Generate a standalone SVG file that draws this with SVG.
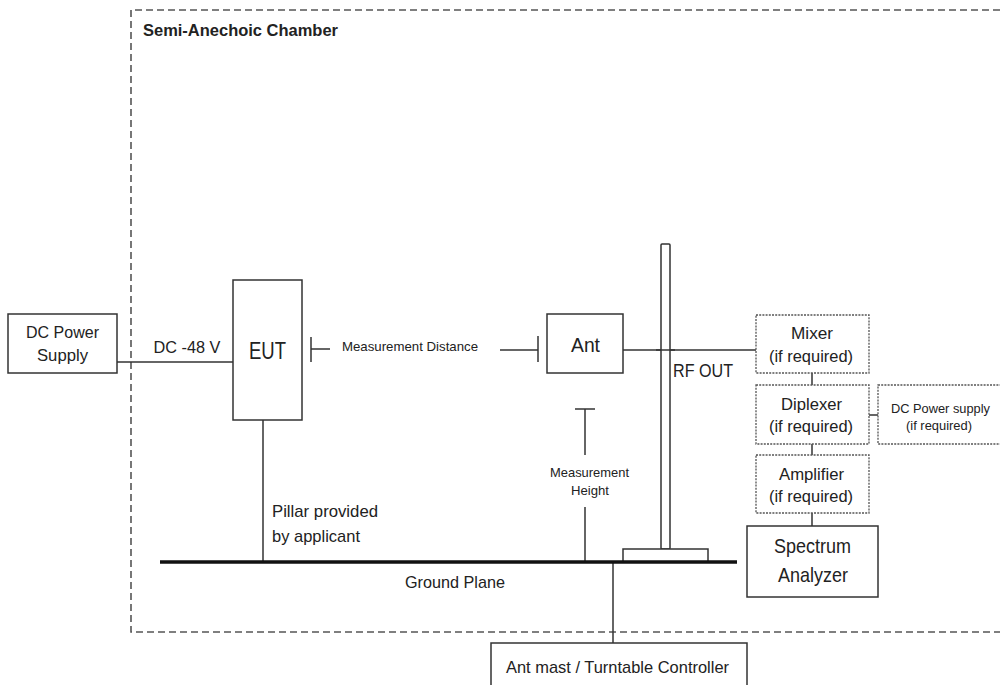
<svg xmlns="http://www.w3.org/2000/svg" width="1000" height="685" viewBox="0 0 1000 685">
<style>
text{font-family:"Liberation Sans",Arial,sans-serif;fill:#222;}
.c{text-anchor:middle;}
.box{fill:#fff;stroke:#333;stroke-width:1.5;}
.opt{fill:#fff;stroke:#555;stroke-width:1.3;stroke-dasharray:2 1.2;}
.ln{stroke:#333;stroke-width:1.5;fill:none;}
.chamber{stroke:#555;stroke-width:1.6;fill:none;stroke-dasharray:7 4;}
</style>
<rect width="1000" height="685" fill="#fff"/>
<g id="chamber">
<path class="chamber" d="M1000,10 H131 V632 H1000"/>
<text x="143" y="36" font-size="16" font-weight="bold" textLength="195" lengthAdjust="spacingAndGlyphs">Semi-Anechoic Chamber</text>
</g>
<g id="connectors">
<line class="ln" x1="117" y1="362" x2="233" y2="362"/>
<line class="ln" x1="263" y1="420" x2="263" y2="562"/>
<line class="ln" x1="623" y1="350" x2="756" y2="350"/>
<line class="ln" x1="812" y1="373" x2="812" y2="385"/>
<line class="ln" x1="869" y1="415" x2="878" y2="415"/>
<line class="ln" x1="812" y1="444" x2="812" y2="455"/>
<line class="ln" x1="812" y1="513" x2="812" y2="526"/>
<line class="ln" x1="613" y1="562" x2="613" y2="643"/>
</g>
<g id="measurement-distance">
<line class="ln" x1="311" y1="337" x2="311" y2="362"/>
<line class="ln" x1="311" y1="349" x2="330" y2="349"/>
<line class="ln" x1="500" y1="350" x2="538" y2="350"/>
<line class="ln" x1="538" y1="336" x2="538" y2="362"/>
<text class="c" x="410" y="351" font-size="13" textLength="136" lengthAdjust="spacingAndGlyphs">Measurement Distance</text>
</g>
<g id="measurement-height">
<line class="ln" x1="575" y1="409" x2="595" y2="409"/>
<line class="ln" x1="585" y1="409" x2="585" y2="455"/>
<line class="ln" x1="585" y1="507" x2="585" y2="562"/>
<text class="c" x="589.5" y="477" font-size="13" textLength="79" lengthAdjust="spacingAndGlyphs">Measurement</text>
<text class="c" x="590" y="495" font-size="13" textLength="38" lengthAdjust="spacingAndGlyphs">Height</text>
</g>
<g id="mast">
<rect x="661" y="244" width="9" height="305" rx="1" fill="#fff" stroke="#333" stroke-width="1.5"/>
<line class="ln" x1="656" y1="350" x2="675" y2="350"/>
<rect x="623" y="549" width="85" height="13" fill="#fff" stroke="#333" stroke-width="1.5"/>
<text x="673" y="377" font-size="19" textLength="60" lengthAdjust="spacingAndGlyphs">RF OUT</text>
</g>
<g id="ground-plane">
<line x1="160" y1="562" x2="737" y2="562" stroke="#111" stroke-width="3.5"/>
<text class="c" x="455" y="588" font-size="17" textLength="100" lengthAdjust="spacingAndGlyphs">Ground Plane</text>
</g>
<g id="pillar-label">
<text x="272" y="517" font-size="17" textLength="106" lengthAdjust="spacingAndGlyphs">Pillar provided</text>
<text x="272" y="542" font-size="17" textLength="88" lengthAdjust="spacingAndGlyphs">by applicant</text>
</g>
<g id="dc-power-supply">
<rect class="box" x="8" y="314" width="109" height="59"/>
<text class="c" x="62.5" y="338" font-size="17" textLength="73" lengthAdjust="spacingAndGlyphs">DC Power</text>
<text class="c" x="62.5" y="361" font-size="17" textLength="51" lengthAdjust="spacingAndGlyphs">Supply</text>
</g>
<g id="dc-label">
<text class="c" x="187" y="353" font-size="17" textLength="67" lengthAdjust="spacingAndGlyphs">DC -48 V</text>
</g>
<g id="eut">
<rect class="box" x="233" y="280" width="69" height="140"/>
<text class="c" x="267.5" y="359" font-size="23" textLength="37" lengthAdjust="spacingAndGlyphs">EUT</text>
</g>
<g id="ant">
<rect class="box" x="547" y="314" width="76" height="59"/>
<text class="c" x="585.5" y="352" font-size="21" textLength="29" lengthAdjust="spacingAndGlyphs">Ant</text>
</g>
<g id="mixer">
<rect class="opt" x="756" y="315" width="113" height="58"/>
<text class="c" x="812" y="339" font-size="17" textLength="42" lengthAdjust="spacingAndGlyphs">Mixer</text>
<text class="c" x="811" y="362" font-size="17" textLength="84" lengthAdjust="spacingAndGlyphs">(if required)</text>
</g>
<g id="diplexer">
<rect class="opt" x="756" y="385" width="113" height="59"/>
<text class="c" x="811.5" y="410" font-size="17" textLength="61" lengthAdjust="spacingAndGlyphs">Diplexer</text>
<text class="c" x="811" y="432" font-size="17" textLength="84" lengthAdjust="spacingAndGlyphs">(if required)</text>
</g>
<g id="dc-power-supply-opt">
<rect class="opt" x="878" y="385" width="130" height="59"/>
<text class="c" x="940.5" y="413" font-size="13" textLength="99" lengthAdjust="spacingAndGlyphs">DC Power supply</text>
<text class="c" x="939" y="430" font-size="13" textLength="66" lengthAdjust="spacingAndGlyphs">(if required)</text>
</g>
<g id="amplifier">
<rect class="opt" x="756" y="455" width="113" height="58"/>
<text class="c" x="811.5" y="480" font-size="17" textLength="65" lengthAdjust="spacingAndGlyphs">Amplifier</text>
<text class="c" x="811" y="502" font-size="17" textLength="84" lengthAdjust="spacingAndGlyphs">(if required)</text>
</g>
<g id="spectrum-analyzer">
<rect class="box" x="747" y="526" width="131" height="71"/>
<text class="c" x="812.5" y="553" font-size="21" textLength="77" lengthAdjust="spacingAndGlyphs">Spectrum</text>
<text class="c" x="813" y="582" font-size="21" textLength="70" lengthAdjust="spacingAndGlyphs">Analyzer</text>
</g>
<g id="controller">
<rect class="box" x="491" y="643" width="256" height="60"/>
<text x="506" y="673" font-size="17" textLength="223" lengthAdjust="spacingAndGlyphs">Ant mast / Turntable Controller</text>
</g>
</svg>
